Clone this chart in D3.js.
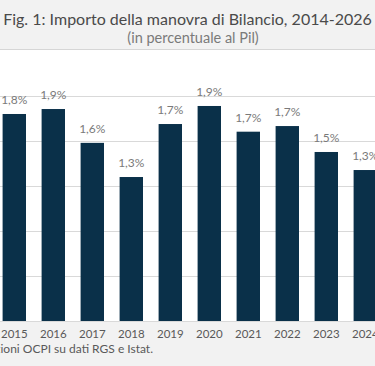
<!DOCTYPE html>
<html><head><meta charset="utf-8">
<script src="https://cdn.jsdelivr.net/npm/d3@7"></script>
<style>html,body{margin:0;padding:0;background:#fff;overflow:hidden}</style>
</head><body>
<script>
const years = ["2015","2016","2017","2018","2019","2020","2021","2022","2023","2024"];
const values = [1.836,1.88,1.58,1.277,1.747,1.907,1.679,1.729,1.499,1.339];
const yTicks = [0,0.4,0.8,1.2,1.6,2.0];
const titleText = "Fig. 1: Importo della manovra di Bilancio, 2014-2026";
const subtitleText = "(in percentuale al Pil)";
const sourceText = "Fonte: elaborazioni OCPI su dati RGS e Istat.";

const W = 375, H = 366;
const svg = d3.select("body").append("svg").attr("width", W).attr("height", H)
  .style("font-family","Lato, 'Open Sans', sans-serif");

svg.append("rect").attr("x",0).attr("y",0).attr("width",W).attr("height",49).attr("fill","#f2f2f2");
svg.append("line").attr("x1",0).attr("x2",W).attr("y1",49.5).attr("y2",49.5).attr("stroke","#d6d6d6");
svg.append("rect").attr("x",0).attr("y",322).attr("width",W).attr("height",H-322).attr("fill","#f2f2f2");

const x = d3.scaleBand().domain(years).range([-5.2, 384.8]).paddingInner(0.4).paddingOuter(0.2);
const y = d3.scaleLinear().domain([0,2.0]).range([321,95.5]);

svg.append("g").selectAll("line").data(yTicks).join("line")
  .attr("x1",0).attr("x2",W).attr("y1",d=>Math.round(y(d))+0.5).attr("y2",d=>Math.round(y(d))+0.5)
  .attr("stroke","#d9d9d9").attr("stroke-width",1);

svg.append("g").selectAll("rect").data(years).join("rect")
  .attr("x",d=>x(d)).attr("width",x.bandwidth())
  .attr("y",(d,i)=>y(values[i])).attr("height",(d,i)=>y(0)-y(values[i]))
  .attr("fill","#0a3049");

const fmt = v => d3.format(".1f")(v).replace(".",",") + "%";
svg.append("g").selectAll("text").data(years).join("text")
  .attr("x",d=>x(d)+x.bandwidth()/2).attr("y",(d,i)=>y(values[i])-10)
  .attr("text-anchor","middle").attr("font-size",12).attr("fill","#7a7a7a")
  .text((d,i)=>fmt(values[i]));

const xAxis = svg.append("g").attr("transform","translate(0,321)")
  .call(d3.axisBottom(x).tickSize(0).tickPadding(9));
xAxis.select(".domain").remove();
xAxis.selectAll("text").attr("font-size",11.5).attr("fill","#595959").attr("font-family","Lato, sans-serif");

const t = svg.append("text").attr("x",187.5).attr("y",24.5).attr("text-anchor","middle")
  .attr("font-size",17).attr("fill","#4a4a4a").text(titleText);
const tw = t.node().getComputedTextLength();
t.attr("font-size", 17*369/tw);

svg.append("text").attr("x",193).attr("y",43).attr("text-anchor","middle")
  .attr("font-size",14.5).attr("fill","#7a7a7a").text(subtitleText);

svg.append("text").attr("x",153).attr("y",353).attr("text-anchor","end")
  .attr("font-size",12).attr("fill","#595959").text(sourceText);
</script>
</body></html>
